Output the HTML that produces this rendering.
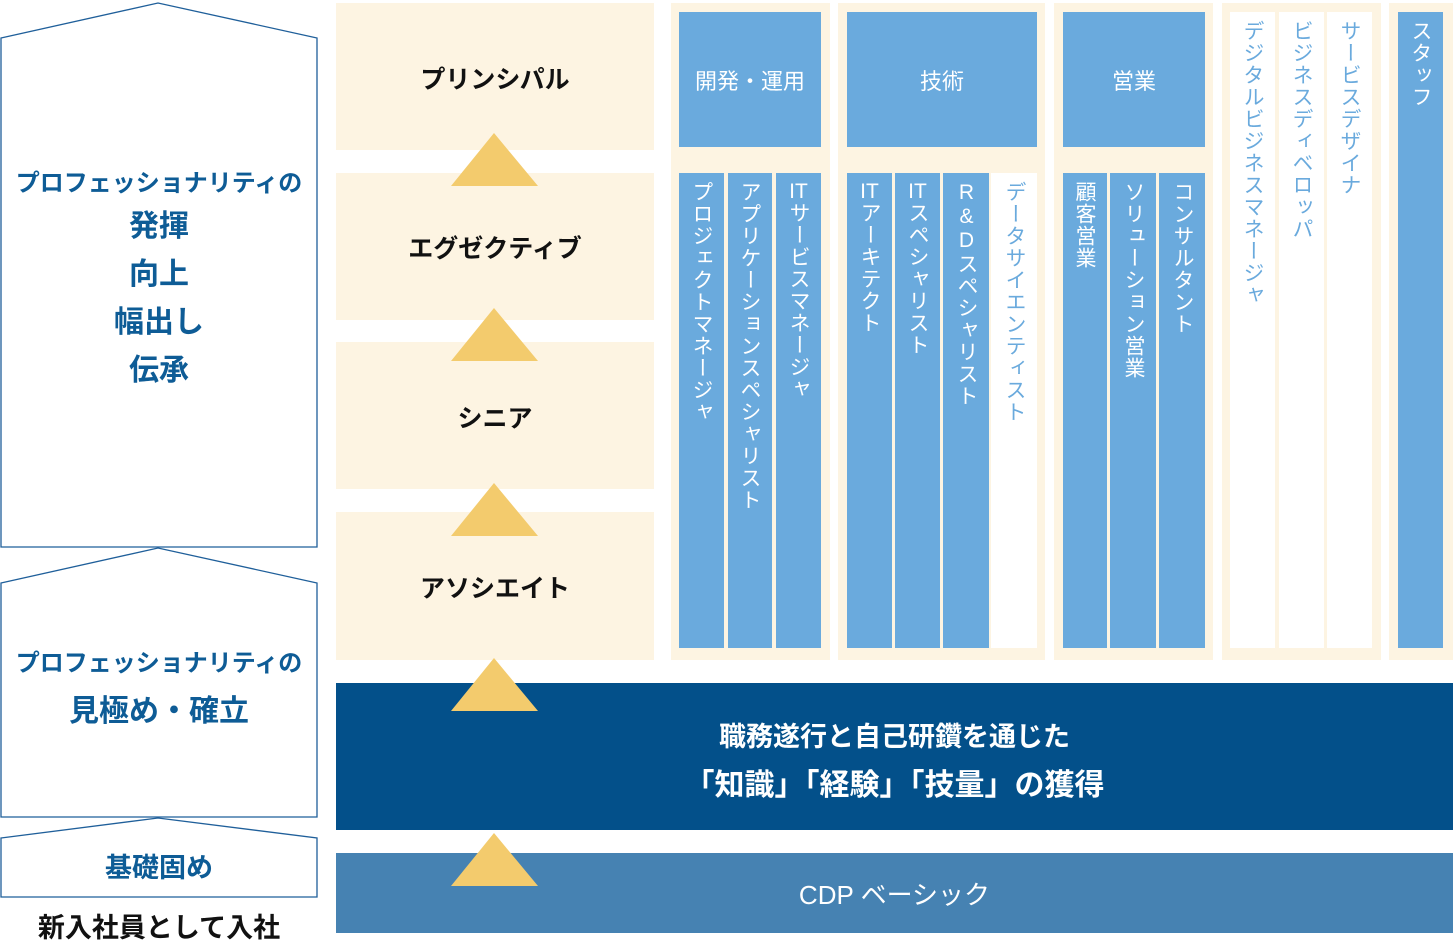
<!DOCTYPE html>
<html><head><meta charset="utf-8"><style>
body{margin:0;width:1453px;height:940px;background:#fff;position:relative;overflow:hidden;font-family:"Liberation Sans","Noto Sans CJK JP",sans-serif}
.a{position:absolute}
.cr{background:#fdf4e2}
.lt{position:absolute;left:336px;width:318px;text-align:center;font-size:25px;font-weight:bold;color:#111}
.hd{background:#6aaadd;color:#fff;font-size:22px;display:flex;align-items:center;justify-content:center}
.st{writing-mode:vertical-rl;text-orientation:upright;font-size:21px;color:#fff;background:#6aaadd;padding-top:8px;box-sizing:border-box;line-height:45px;letter-spacing:1px}
.st .t{text-combine-upright:all}
.w{background:#fff;color:#6aaadd}
.bt{color:#0e5c96;font-weight:bold;text-align:center;width:316px;left:1px}
</style></head><body>
<svg class="a" style="left:0;top:0" width="1453" height="940">
<g fill="#fff" stroke="#1f5f9a" stroke-width="1.3">
<polygon points="1,38 158,3 317,38 317,547 1,547"/>
<polygon points="1,583 158,548 317,583 317,817 1,817"/>
<polygon points="1,838 158,818 317,838 317,897 1,897"/>
</g></svg>
<div class="a bt" style="top:163px;font-size:24px">プロフェッショナリティの</div>
<div class="a bt" style="top:203px;font-size:30px;line-height:48px">発揮<br>向上<br>幅出し<br>伝承</div>
<div class="a bt" style="top:643px;font-size:24px">プロフェッショナリティの</div>
<div class="a bt" style="top:686px;font-size:30px">見極め・確立</div>
<div class="a bt" style="top:846px;font-size:27px">基礎固め</div>
<div class="a" style="left:1px;width:316px;text-align:center;top:906px;font-size:27px;font-weight:bold;color:#111">新入社員として入社</div>

<div class="a cr" style="left:336px;top:3px;width:318px;height:147px"></div>
<div class="a cr" style="left:336px;top:173px;width:318px;height:147px"></div>
<div class="a cr" style="left:336px;top:342px;width:318px;height:147px"></div>
<div class="a cr" style="left:336px;top:512px;width:318px;height:148px"></div>
<div class="lt" style="top:60px">プリンシパル</div>
<div class="lt" style="top:229px">エグゼクティブ</div>
<div class="lt" style="top:399px">シニア</div>
<div class="lt" style="top:569px">アソシエイト</div>

<div class="a" style="left:336px;top:683px;width:1117px;height:147px;background:#03508a;color:#fff;text-align:center;font-weight:bold">
<div style="margin-top:32px;font-size:27px">職務遂行と自己研鑽を通じた</div>
<div style="margin-top:6px;font-size:30px">「知識」「経験」「技量」の獲得</div></div>
<div class="a" style="left:336px;top:853px;width:1117px;height:80px;background:#4682b2;color:#fff;font-size:26px;display:flex;align-items:center;justify-content:center">CDP ベーシック</div>

<div class="a cr" style="left:671px;top:3px;width:159px;height:657px"></div>
<div class="a cr" style="left:838px;top:3px;width:207px;height:657px"></div>
<div class="a cr" style="left:1054px;top:3px;width:159px;height:657px"></div>
<div class="a cr" style="left:1222px;top:3px;width:159px;height:657px"></div>
<div class="a cr" style="left:1389px;top:3px;width:64px;height:657px"></div>
<div class="a hd" style="left:679px;top:12px;width:142px;height:135px">開発・運用</div>
<div class="a hd" style="left:847px;top:12px;width:190px;height:135px">技術</div>
<div class="a hd" style="left:1063px;top:12px;width:142px;height:135px">営業</div>

<div class="a st" style="left:679px;top:173px;width:45px;height:475px">プロジェクトマネージャ</div>
<div class="a st" style="left:728px;top:173px;width:44px;height:475px">アプリケーションスペシャリスト</div>
<div class="a st" style="left:776px;top:173px;width:45px;height:475px"><span class="t">IT</span>サービスマネージャ</div>
<div class="a st" style="left:847px;top:173px;width:45px;height:475px"><span class="t">IT</span>アーキテクト</div>
<div class="a st" style="left:895px;top:173px;width:45px;height:475px"><span class="t">IT</span>スペシャリスト</div>
<div class="a st" style="left:943px;top:173px;width:46px;height:475px">R&amp;Dスペシャリスト</div>
<div class="a st w" style="left:991px;top:173px;width:46px;height:475px">データサイエンティスト</div>
<div class="a st" style="left:1063px;top:173px;width:44px;height:475px">顧客営業</div>
<div class="a st" style="left:1110px;top:173px;width:46px;height:475px">ソリューション営業</div>
<div class="a st" style="left:1159px;top:173px;width:46px;height:475px">コンサルタント</div>
<div class="a st w" style="left:1230px;top:12px;width:45px;height:636px">デジタルビジネスマネージャ</div>
<div class="a st w" style="left:1279px;top:12px;width:45px;height:636px">ビジネスディベロッパ</div>
<div class="a st w" style="left:1327px;top:12px;width:45px;height:636px">サービスデザイナ</div>
<div class="a st" style="left:1398px;top:12px;width:45px;height:636px">スタッフ</div>

<svg class="a" style="left:0;top:0" width="1453" height="940"><g fill="#f3cb6d">
<polygon points="494,133 538,186 451,186"/>
<polygon points="494,308 538,361 451,361"/>
<polygon points="494,483 538,536 451,536"/>
<polygon points="494,658 538,711 451,711"/>
<polygon points="494,833 538,886 451,886"/>
</g></svg>
</body></html>
